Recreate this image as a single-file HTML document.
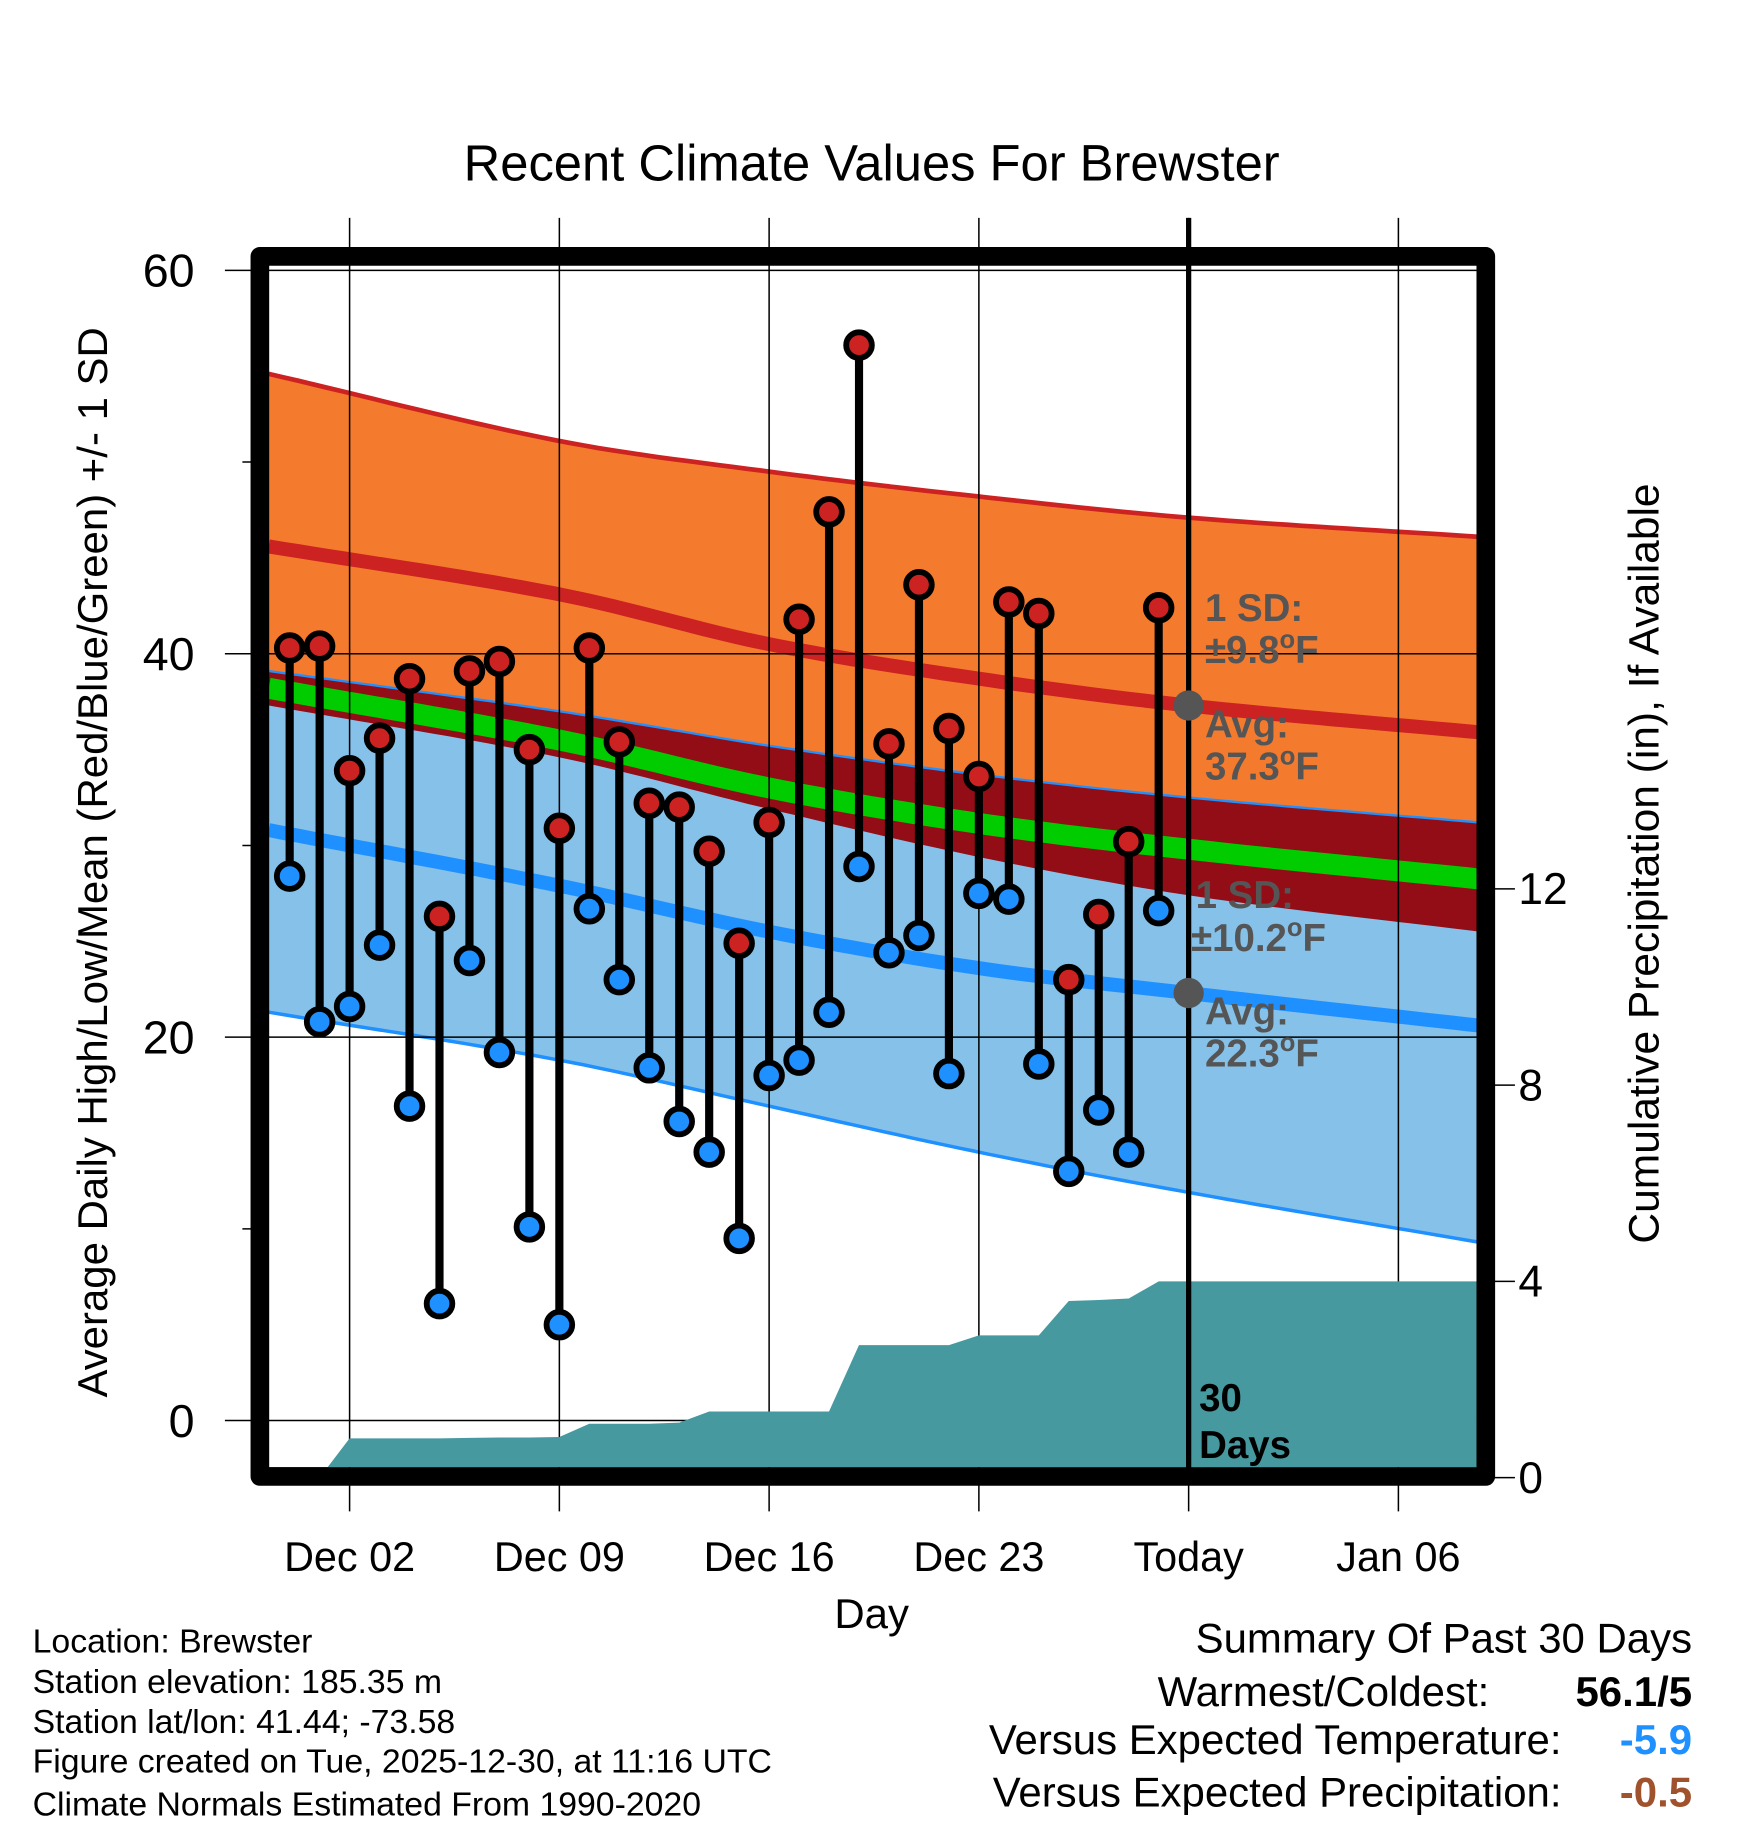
<!DOCTYPE html>
<html><head><meta charset="utf-8"><style>
html,body{margin:0;padding:0;background:#fff;}
svg{display:block;font-family:"Liberation Sans",sans-serif;}
</style></head><body>
<svg id="chart" width="1748" height="1828" viewBox="0 0 1500 1568.65" preserveAspectRatio="none" xmlns="http://www.w3.org/2000/svg">
<g id="bands"></g><g id="grid"></g><g id="precip"></g><g id="lines"></g><g id="marks"></g><g id="labels"></g>
</svg>
<script>
// ---- data ----
const xTickDays = [0, 7, 14, 21, 28, 35];
const xTickLabels = ["Dec 02", "Dec 09", "Dec 16", "Dec 23", "Today", "Jan 06"];
const yTicks = [0, 20, 40, 60];
const yMinorTicks = [10, 30, 50];
const pTicks = [0, 4, 8, 12];
const obsDays = [-2,-1,0,1,2,3,4,5,6,7,8,9,10,11,12,13,14,15,16,17,18,19,20,21,22,23,24,25,26,27];
const highs = [40.3,40.4,33.9,35.6,38.7,26.3,39.1,39.6,35.0,30.9,40.3,35.4,32.2,32.0,29.7,24.9,31.2,41.8,47.4,56.1,35.3,43.6,36.1,33.6,42.7,42.1,23.0,26.4,30.2,42.4];
const lows = [28.4,20.8,21.6,24.8,16.4,6.1,24.0,19.2,10.1,5.0,26.7,23.0,18.4,15.6,14.0,9.5,18.0,18.8,21.3,28.9,24.4,25.3,18.1,27.5,27.2,18.6,13.0,16.2,14.0,26.6];
const precip = [0,0,0.8,0.8,0.8,0.8,0.81,0.82,0.82,0.83,1.1,1.1,1.1,1.12,1.35,1.35,1.35,1.35,1.35,2.7,2.7,2.7,2.7,2.9,2.9,2.9,3.6,3.62,3.65,4.0];
const normDays = [-2.7, 7, 14, 21, 28, 37.7];
const highUpper = [54.6, 51.1, 49.5, 48.2, 47.1, 46.1];
const highMean = [45.6, 43.1, 40.5, 38.7, 37.3, 35.9];
const highLower = [37.3, 34.6, 31.9, 29.4, 27.4, 25.5];
const lowUpper = [39.1, 37.0, 35.2, 33.7, 32.5, 31.2];
const lowMean = [30.8, 27.9, 25.5, 23.6, 22.3, 20.6];
const lowLower = [21.3, 18.8, 16.4, 14.0, 11.9, 9.3];

// ---- axes ----
const X0 = 231, X1 = 1267, Y0 = 229, Y1 = 1259;
const xDay = d => 300 + d * (180 / 7);
const yT = v => 1219 - v * 16.45;
const yP = p => 1268 - p * 42.1;
const NS = "http://www.w3.org/2000/svg";
function mk(tag, attrs, parent) {
  const e = document.createElementNS(NS, tag);
  for (const k in attrs) e.setAttribute(k, attrs[k]);
  parent.appendChild(e); return e;
}
// smooth (Catmull-Rom style Hermite) interpolation through knots
function interp(arr, d) {
  const n = normDays.length;
  let i = 0;
  while (i < n - 2 && d > normDays[i + 1]) i++;
  const x0 = normDays[i], x1 = normDays[i + 1], h = x1 - x0;
  const slope = k => {
    if (k === 0) return (arr[1] - arr[0]) / (normDays[1] - normDays[0]);
    if (k === n - 1) return (arr[n - 1] - arr[n - 2]) / (normDays[n - 1] - normDays[n - 2]);
    return (arr[k + 1] - arr[k - 1]) / (normDays[k + 1] - normDays[k - 1]);
  };
  const t = (d - x0) / h, t2 = t * t, t3 = t2 * t;
  return (2*t3 - 3*t2 + 1) * arr[i] + (t3 - 2*t2 + t) * h * slope(i) +
         (-2*t3 + 3*t2) * arr[i + 1] + (t3 - t2) * h * slope(i + 1);
}
const sampleDays = [];
for (let d = normDays[0]; d < normDays[normDays.length - 1]; d += 0.5) sampleDays.push(d);
sampleDays.push(normDays[normDays.length - 1]);
const linePts = arr => sampleDays.map(d => xDay(d).toFixed(1) + "," + yT(interp(arr, d)).toFixed(1));
const bandPts = (a, b) => linePts(a).concat(linePts(b).reverse()).join(" ");

const bands = document.getElementById("bands");
const grid = document.getElementById("grid");
const pg = document.getElementById("precip");
const lines = document.getElementById("lines");
const marks = document.getElementById("marks");
const labels = document.getElementById("labels");

let e;
e = mk("polygon", {points: bandPts(highUpper, highLower), fill: "#f47a2e"}, bands);


e = mk("polygon", {points: bandPts(lowUpper, lowLower), fill: "#85c1e8"}, bands);


e = mk("polygon", {points: bandPts(lowUpper, highLower), fill: "#920d15"}, bands);


const meanAvg = highMean.map((v, i) => (v + lowMean[i]) / 2);
e = mk("polyline", {points: linePts(meanAvg).join(" "), fill: "none", stroke: "#00cc00", "stroke-width": 18}, bands);


e = mk("polyline", {points: linePts(highUpper).join(" "), fill: "none", stroke: "#cc2222", "stroke-width": 4}, bands);


e = mk("polyline", {points: linePts(highMean).join(" "), fill: "none", stroke: "#cc2222", "stroke-width": 12}, bands);


e = mk("polyline", {points: linePts(lowUpper).join(" "), fill: "none", stroke: "#1e90ff", "stroke-width": 2}, bands);


e = mk("polyline", {points: linePts(lowMean).join(" "), fill: "none", stroke: "#1e90ff", "stroke-width": 12}, bands);


e = mk("polyline", {points: linePts(lowLower).join(" "), fill: "none", stroke: "#1e90ff", "stroke-width": 3}, bands);



// grid
xTickDays.forEach((d, i) => {
  e = mk("line", {x1: xDay(d), x2: xDay(d), y1: 187, y2: 1297, stroke: "#000", "stroke-width": 1.3}, grid);
  
  
  e = mk("text", {x: xDay(d), y: 1348, "font-size": 35.5, "text-anchor": "middle"}, labels);
  e.textContent = xTickLabels[i];
  
  
});
yTicks.forEach(v => {
  e = mk("line", {x1: 193, x2: X1, y1: yT(v), y2: yT(v), stroke: "#000", "stroke-width": 1.3}, grid);
  
  
  e = mk("text", {x: 167, y: yT(v) + 14, "font-size": 40, "text-anchor": "end"}, labels);
  e.textContent = v;
  
  
});
yMinorTicks.forEach(v => {
  e = mk("line", {x1: 208, x2: 222, y1: yT(v), y2: yT(v), stroke: "#000", "stroke-width": 1.3}, grid);
  
  
});
pTicks.forEach(p => {
  e = mk("line", {x1: 1275, x2: 1300, y1: yP(p), y2: yP(p), stroke: "#000", "stroke-width": 1.3}, grid);
  
  
  e = mk("text", {x: 1303, y: yP(p) + 13, "font-size": 38}, labels);
  e.textContent = p;
  
  
});

// precip area
const pp = [xDay(normDays[0]).toFixed(1) + "," + yP(0)];
obsDays.forEach((d, i) => pp.push(xDay(d).toFixed(1) + "," + yP(precip[i]).toFixed(1)));
pp.push(X1 + "," + yP(precip[precip.length - 1]).toFixed(1));
pp.push(X1 + "," + Y1, X0 + "," + Y1);
e = mk("polygon", {points: pp.join(" "), fill: "#4799a0"}, pg);



// today line
e = mk("line", {x1: xDay(28), x2: xDay(28), y1: 187, y2: 1262, stroke: "#000", "stroke-width": 4.5}, lines);


e = mk("circle", {cx: xDay(28), cy: yT(interp(highMean, 28)), r: 13, fill: "#555"}, lines);


e = mk("circle", {cx: xDay(28), cy: yT(interp(lowMean, 28)), r: 13, fill: "#555"}, lines);



// marks
obsDays.forEach((d, i) => {
  const x = xDay(d);
  e = mk("line", {x1: x, x2: x, y1: yT(highs[i]), y2: yT(lows[i]), stroke: "#000", "stroke-width": 7}, marks);
  
  
});
obsDays.forEach((d, i) => {
  const x = xDay(d);
  e = mk("circle", {cx: x, cy: yT(highs[i]), r: 11, fill: "#cc2222", stroke: "#000", "stroke-width": 5}, marks);
  
  
  e = mk("circle", {cx: x, cy: yT(lows[i]), r: 11, fill: "#1e90ff", stroke: "#000", "stroke-width": 5}, marks);
  
  
});
</script>
<script>
// static text & frame
(function(){
const svg = document.getElementById("chart");
const NS = "http://www.w3.org/2000/svg";
const frame = document.createElementNS(NS, "rect");
frame.setAttribute("x", 223); frame.setAttribute("y", 220);
frame.setAttribute("width", 1052); frame.setAttribute("height", 1047);
frame.setAttribute("fill", "none"); frame.setAttribute("stroke", "#000");
frame.setAttribute("stroke-width", 16); frame.setAttribute("stroke-linejoin", "round");


svg.appendChild(frame);
svg.insertAdjacentHTML("beforeend", `
<text x="748" y="155" font-size="43.5" text-anchor="middle">Recent Climate Values For Brewster</text>
<text transform="translate(92,740) rotate(-90)" font-size="36" text-anchor="middle">Average Daily High/Low/Mean (Red/Blue/Green) +/- 1 SD</text>
<text transform="translate(1423,741) rotate(-90)" font-size="36.5" text-anchor="middle">Cumulative Precipitation (in), If Available</text>
<text x="748" y="1397" font-size="36" text-anchor="middle">Day</text>
<g font-size="33" font-weight="bold" fill="#555">
<text x="1034" y="533">1 SD:</text>
<text x="1034" y="569">±9.8<tspan font-size="22" dy="-13">o</tspan><tspan dy="13">F</tspan></text>
<text x="1034" y="633">Avg:</text>
<text x="1034" y="669">37.3<tspan font-size="22" dy="-13">o</tspan><tspan dy="13">F</tspan></text>
<text x="1026" y="779">1 SD:</text>
<text x="1022" y="816">±10.2<tspan font-size="22" dy="-13">o</tspan><tspan dy="13">F</tspan></text>
<text x="1034" y="879">Avg:</text>
<text x="1034" y="915">22.3<tspan font-size="22" dy="-13">o</tspan><tspan dy="13">F</tspan></text>
</g>
<text font-size="33" font-weight="bold" x="1029" y="1211">30</text>
<text font-size="33" font-weight="bold" x="1029" y="1251">Days</text>
<g font-size="29">
<text x="28" y="1418">Location: Brewster</text>
<text x="28" y="1453">Station elevation: 185.35 m</text>
<text x="28" y="1487">Station lat/lon: 41.44; -73.58</text>
<text x="28" y="1521">Figure created on Tue, 2025-12-30, at 11:16 UTC</text>
<text x="28" y="1558">Climate Normals Estimated From 1990-2020</text>
</g>
<g font-size="36">
<text x="1452" y="1418" text-anchor="end">Summary Of Past 30 Days</text>
<text x="1278" y="1464" text-anchor="end">Warmest/Coldest:</text>
<text x="1452" y="1464" text-anchor="end" font-weight="bold">56.1/5</text>
<text x="1340" y="1505" text-anchor="end">Versus Expected Temperature:</text>
<text x="1452" y="1505" text-anchor="end" font-weight="bold" fill="#1e90ff">-5.9</text>
<text x="1340" y="1550" text-anchor="end">Versus Expected Precipitation:</text>
<text x="1452" y="1550" text-anchor="end" font-weight="bold" fill="#a0522d">-0.5</text>
</g>`);
})();
</script>
</body></html>
